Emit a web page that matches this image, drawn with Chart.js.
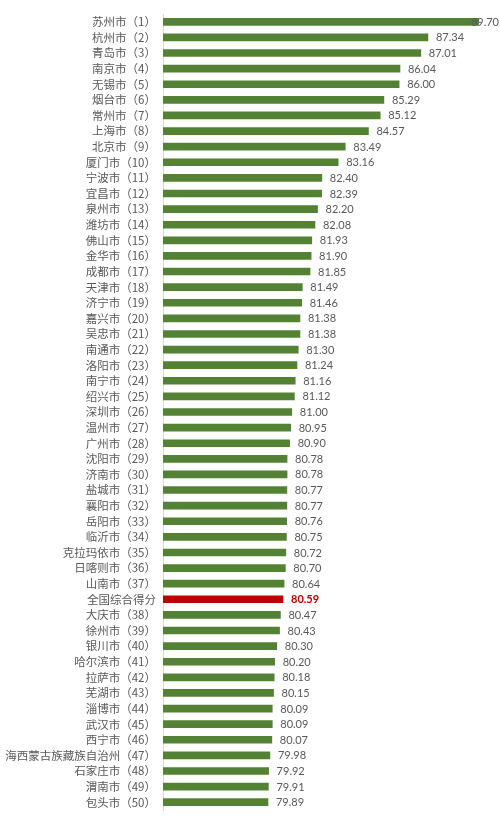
<!DOCTYPE html>
<html>
<head>
<meta charset="utf-8">
<script src="https://cdn.jsdelivr.net/npm/chart.js@4/dist/chart.umd.min.js"></script>
<style>
html,body{margin:0;padding:0;background:#fff;}
#wrap{width:500px;height:823px;position:relative;}
</style>
</head>
<body>
<div id="wrap"><canvas id="c" width="500" height="823"></canvas></div>
<script>
const categories = [
"苏州市（1）","杭州市（2）","青岛市（3）","南京市（4）","无锡市（5）","烟台市（6）","常州市（7）","上海市（8）","北京市（9）","厦门市（10）",
"宁波市（11）","宜昌市（12）","泉州市（13）","潍坊市（14）","佛山市（15）","金华市（16）","成都市（17）","天津市（18）","济宁市（19）","嘉兴市（20）",
"吴忠市（21）","南通市（22）","洛阳市（23）","南宁市（24）","绍兴市（25）","深圳市（26）","温州市（27）","广州市（28）","沈阳市（29）","济南市（30）",
"盐城市（31）","襄阳市（32）","岳阳市（33）","临沂市（34）","克拉玛依市（35）","日喀则市（36）","山南市（37）","全国综合得分","大庆市（38）","徐州市（39）",
"银川市（40）","哈尔滨市（41）","拉萨市（42）","芜湖市（43）","淄博市（44）","武汉市（45）","西宁市（46）","海西蒙古族藏族自治州（47）","石家庄市（48）","渭南市（49）",
"包头市（50）"
];
const scores = [
89.70,87.34,87.01,86.04,86.00,85.29,85.12,84.57,83.49,83.16,
82.40,82.39,82.20,82.08,81.93,81.90,81.85,81.49,81.46,81.38,
81.38,81.30,81.24,81.16,81.12,81.00,80.95,80.90,80.78,80.78,
80.77,80.77,80.76,80.75,80.72,80.70,80.64,80.59,80.47,80.43,
80.30,80.20,80.18,80.15,80.09,80.09,80.07,79.98,79.92,79.91,
79.89
];
const highlightLabel = "全国综合得分";
const axisMin = 75;
const axisMax = 90;

const GREEN = '#548235';
const RED = '#c00000';
const barColors = categories.map(c => c === highlightLabel ? RED : GREEN);

const valueLabels = {
  id: 'valueLabels',
  afterDatasetsDraw(chart) {
    const ctx = chart.ctx;
    const meta = chart.getDatasetMeta(0);
    ctx.save();
    ctx.textBaseline = 'middle';
    ctx.textAlign = 'left';
    meta.data.forEach((bar, i) => {
      const isHi = categories[i] === highlightLabel;
      ctx.font = (isHi ? 'bold ' : '') + '11px Lato, "Open Sans", sans-serif';
      ctx.fillStyle = isHi ? RED : '#595959';
      const txt = scores[i].toFixed(2);
      const w = ctx.measureText(txt).width;
      let x = bar.x + 8;
      x = Math.min(x, chart.width - w - 1);
      ctx.fillText(txt, x, bar.y + 0.5);
    });
    ctx.restore();
  }
};

new Chart(document.getElementById('c'), {
  type: 'bar',
  data: {
    labels: categories,
    datasets: [{
      data: scores,
      backgroundColor: barColors,
      borderWidth: 0,
      barThickness: 7
    }]
  },
  options: {
    responsive: false,
    animation: false,
    indexAxis: 'y',
    layout: { padding: { top: 14, bottom: 13, right: 15, left: 0 } },
    plugins: { legend: { display: false }, tooltip: { enabled: false } },
    scales: {
      x: {
        display: false,
        min: axisMin,
        max: axisMax
      },
      y: {
        afterFit(scale) { scale.width = 163; scale.paddingTop = 0; scale.paddingBottom = 0; },
        grid: { display: false, drawTicks: false },
        border: { display: true, color: '#d9d9d9', width: 1 },
        ticks: {
          autoSkip: false,
          padding: 7,
          color: '#595959',
          font: { family: '"Noto Sans CJK SC", sans-serif', size: 11.5 }
        }
      }
    }
  },
  plugins: [valueLabels]
});
</script>
</body>
</html>
